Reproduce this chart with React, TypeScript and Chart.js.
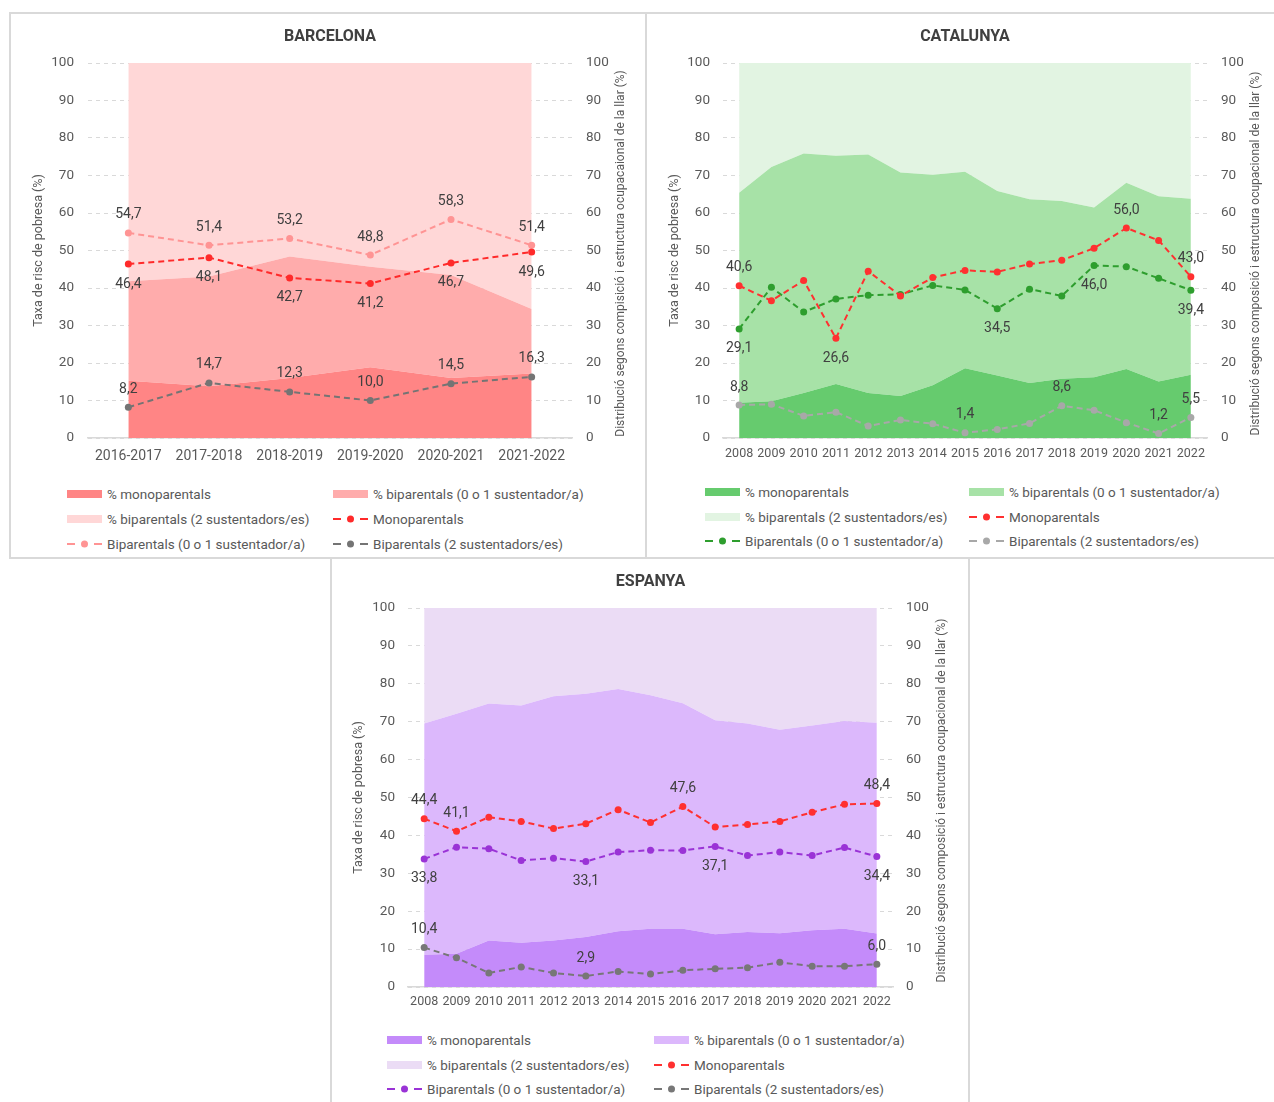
import React, { useEffect, useRef } from 'react';
import { Chart, registerables } from 'chart.js';

Chart.register(...registerables);

const FONT = 'Roboto, "Noto Sans", sans-serif';
const TICK_COLOR = '#595959';
const LABEL_COLOR = '#404040';

// ---------- Series names ----------
const areaMonoName = '% monoparentals';
const areaBip01Name = '% biparentals (0 o 1 sustentador/a)';
const areaBip2Name = '% biparentals (2 sustentadors/es)';
const lineMonoName = 'Monoparentals';
const lineBip01Name = 'Biparentals (0 o 1 sustentador/a)';
const lineBip2Name = 'Biparentals (2 sustentadors/es)';
const leftAxisTitle = 'Taxa de risc de pobresa (%)';

// ---------- BARCELONA ----------
const bcnCategories = ['2016-2017', '2017-2018', '2018-2019', '2019-2020', '2020-2021', '2021-2022'];
const bcnAreaMono = [15.3, 13.8, 16.0, 18.9, 16.0, 17.2];
const bcnAreaBip01 = [26.5, 29.3, 32.4, 26.8, 27.5, 17.2];
const bcnAreaBip2 = [58.2, 56.9, 51.6, 54.3, 56.5, 65.6];
const bcnLineMono = [46.4, 48.1, 42.7, 41.2, 46.7, 49.6];
const bcnLineBip01 = [54.7, 51.4, 53.2, 48.8, 58.3, 51.4];
const bcnLineBip2 = [8.2, 14.7, 12.3, 10.0, 14.5, 16.3];
const bcnPosMono = ['b', 'b', 'b', 'b', 'b', 'b'];
const bcnPosBip01 = ['a', 'a', 'a', 'a', 'a', 'a'];
const bcnPosBip2 = ['a', 'a', 'a', 'a', 'a', 'a'];

// ---------- CATALUNYA ----------
const years = ['2008', '2009', '2010', '2011', '2012', '2013', '2014', '2015', '2016', '2017', '2018', '2019', '2020', '2021', '2022'];
const catAreaMono = [9.4, 9.8, 12.0, 14.4, 12.0, 11.2, 14.1, 18.6, 16.7, 14.7, 15.8, 16.2, 18.4, 15.1, 16.9];
const catAreaBip01 = [56.0, 62.5, 63.9, 60.9, 63.6, 59.6, 56.1, 52.4, 49.2, 49.0, 47.4, 45.3, 49.7, 49.4, 46.9];
const catAreaBip2 = [34.6, 27.7, 24.1, 24.7, 24.4, 29.2, 29.8, 29.0, 34.1, 36.3, 36.8, 38.5, 31.9, 35.5, 36.2];
const catLineMono = [40.6, 36.6, 42.0, 26.6, 44.5, 37.9, 42.8, 44.7, 44.3, 46.4, 47.4, 50.6, 56.0, 52.7, 43.0];
const catLineBip01 = [29.1, 40.2, 33.6, 37.1, 38.1, 38.3, 40.7, 39.5, 34.5, 39.7, 37.9, 46.0, 45.7, 42.6, 39.4];
const catLineBip2 = [8.8, 9.0, 5.9, 6.9, 3.2, 4.8, 3.8, 1.4, 2.3, 3.9, 8.6, 7.4, 4.1, 1.2, 5.5];
const catPosMono = ['a', '', '', 'b', '', '', '', '', '', '', '', '', 'a', '', 'a'];
const catPosBip01 = ['b', '', '', '', '', '', '', '', 'b', '', '', 'b', '', '', 'b'];
const catPosBip2 = ['a', '', '', '', '', '', '', 'a', '', '', 'a', '', '', 'a', 'a'];

// ---------- ESPANYA ----------
const espAreaMono = [8.5, 8.8, 12.3, 11.7, 12.3, 13.2, 14.7, 15.4, 15.4, 13.9, 14.5, 14.2, 15.0, 15.4, 14.1];
const espAreaBip01 = [61.0, 63.3, 62.5, 62.6, 64.4, 64.2, 63.9, 61.6, 59.5, 56.5, 55.0, 53.7, 54.0, 54.8, 55.6];
const espAreaBip2 = [30.5, 27.9, 25.2, 25.7, 23.3, 22.6, 21.4, 23.0, 25.1, 29.6, 30.5, 32.1, 31.0, 29.8, 30.3];
const espLineMono = [44.4, 41.1, 44.8, 43.7, 41.8, 43.1, 46.8, 43.4, 47.6, 42.2, 42.9, 43.7, 46.1, 48.2, 48.4];
const espLineBip01 = [33.8, 36.9, 36.5, 33.4, 34.0, 33.1, 35.6, 36.1, 36.0, 37.1, 34.7, 35.6, 34.7, 36.8, 34.4];
const espLineBip2 = [10.4, 7.7, 3.7, 5.3, 3.7, 2.9, 4.1, 3.4, 4.4, 4.8, 5.1, 6.5, 5.5, 5.5, 6.0];
const espPosMono = ['a', 'a', '', '', '', '', '', '', 'a', '', '', '', '', '', 'a'];
const espPosBip01 = ['b', '', '', '', '', 'b', '', '', '', 'b', '', '', '', '', 'b'];
const espPosBip2 = ['a', '', '', '', '', 'a', '', '', '', '', '', '', '', '', 'a'];

const fmt = (v: number) => v.toFixed(1).replace('.', ',');

const pointLabelPlugin = {
  id: 'pointLabels',
  afterDatasetsDraw(chart: any) {
    const ctx = chart.ctx;
    chart.data.datasets.forEach((ds: any, i: number) => {
      const pos = ds.labelPos;
      if (!pos) return;
      const meta = chart.getDatasetMeta(i);
      ctx.save();
      ctx.font = `14px ${FONT}`;
      ctx.fillStyle = LABEL_COLOR;
      ctx.textAlign = 'center';
      ctx.textBaseline = 'middle';
      meta.data.forEach((pt: any, j: number) => {
        const p = pos[j];
        if (!p) return;
        const dy = p === 'a' ? -18 : 20;
        ctx.fillText(fmt(ds.data[j]), pt.x, pt.y + dy);
      });
      ctx.restore();
    });
  },
};

// Right axis title, written bottom-to-top like the left one
const rightTitlePlugin = {
  id: 'rightTitle',
  afterDraw(chart: any, _args: any, opts: any) {
    if (!opts || !opts.text) return;
    const { ctx, chartArea } = chart;
    ctx.save();
    ctx.translate(opts.x, (chartArea.top + chartArea.bottom) / 2 + (opts.dy || 0));
    ctx.rotate(-Math.PI / 2);
    ctx.font = `12px ${FONT}`;
    ctx.fillStyle = TICK_COLOR;
    ctx.textAlign = 'center';
    ctx.textBaseline = 'middle';
    ctx.fillText(opts.text, 0, 0);
    ctx.restore();
  },
};

type Area = { label: string; data: number[]; color: string };
type Line = { label: string; data: number[]; color: string; pos: string[] };

type PanelProps = {
  title: string;
  rightTitle: string;
  rightTitleX: number;
  categories: string[];
  areas: Area[];
  lines: Line[];
  canvas: { x: number; y: number; w: number; h: number };
  area: { left: number; right: number; top: number; bottom: number }; // canvas coords
  xPad: number;
  xFontSize: number;
  yPadL: number;
  yPadR: number;
  ltPad: number;
  legend: { col1: number; col2: number; rows: number[]; textGap: number; swatchW: number };
};

function ChartPanel(p: PanelProps) {
  const ref = useRef<HTMLCanvasElement>(null);
  useEffect(() => {
    if (!ref.current) return;
    const yFont = { family: FONT, size: 13.5 };
    const xFont = { family: FONT, size: p.xFontSize };
    const datasets: any[] = [
      ...p.areas.map((s, i) => ({
        type: 'line',
        label: s.label,
        data: s.data,
        yAxisID: 'y2',
        order: 10,
        fill: i === 0 ? 'origin' : '-1',
        backgroundColor: s.color,
        borderColor: 'rgba(0,0,0,0)',
        borderWidth: 0,
        pointRadius: 0,
        tension: 0,
      })),
      ...p.lines.map((s) => ({
        type: 'line',
        label: s.label,
        data: s.data,
        yAxisID: 'y',
        order: 1,
        fill: false,
        borderColor: s.color,
        backgroundColor: s.color,
        borderWidth: 2,
        borderDash: [6, 4],
        pointRadius: 3.5,
        pointBackgroundColor: s.color,
        pointBorderWidth: 0,
        tension: 0,
        labelPos: s.pos,
      })),
    ];
    const chart = new Chart(ref.current, {
      type: 'line',
      data: { labels: p.categories, datasets },
      options: {
        responsive: false,
        animation: false,
        devicePixelRatio: 1,
        layout: { padding: { top: p.area.top, left: 0, right: 0, bottom: 0 } },
        plugins: {
          legend: { display: false },
          tooltip: { enabled: false },
          title: { display: false },
          rightTitle: { text: p.rightTitle, x: p.rightTitleX, dy: 3 },
        },
        scales: {
          x: {
            type: 'category',
            offset: true,
            grid: { display: false, drawTicks: false },
            border: { display: true, color: '#D9D9D9', width: 1.5 },
            ticks: { autoSkip: false, maxRotation: 0, minRotation: 0, padding: p.xPad, color: TICK_COLOR, font: xFont },
            afterFit: (s: any) => {
              s.height = p.canvas.h - p.area.bottom;
            },
          },
          y: {
            position: 'left',
            min: 0,
            max: 100,
            ticks: { stepSize: 10, padding: p.yPadL, color: TICK_COLOR, font: yFont },
            grid: { color: '#D9D9D9', lineWidth: 1, drawTicks: false },
            border: { display: false, dash: [4, 4] },
            title: {
              display: true,
              text: leftAxisTitle,
              color: TICK_COLOR,
              font: { family: FONT, size: 12.5 },
              padding: { top: p.ltPad, bottom: 0 },
            },
            afterFit: (s: any) => {
              s.width = p.area.left;
            },
          },
          y2: {
            position: 'right',
            min: 0,
            max: 100,
            stacked: true,
            ticks: { stepSize: 10, padding: p.yPadR, color: TICK_COLOR, font: yFont },
            grid: { display: false, drawTicks: false },
            border: { display: false },
            title: { display: false },
            afterFit: (s: any) => {
              s.width = p.canvas.w - p.area.right;
            },
          },
        },
      } as any,
      plugins: [pointLabelPlugin, rightTitlePlugin],
    } as any);
    return () => chart.destroy();
  }, []);

  const legendItems: { kind: 'area' | 'line'; label: string; color: string }[] = [
    { kind: 'area', label: p.areas[0].label, color: p.areas[0].color },
    { kind: 'area', label: p.areas[1].label, color: p.areas[1].color },
    { kind: 'area', label: p.areas[2].label, color: p.areas[2].color },
    { kind: 'line', label: p.lines[0].label, color: p.lines[0].color },
    { kind: 'line', label: p.lines[1].label, color: p.lines[1].color },
    { kind: 'line', label: p.lines[2].label, color: p.lines[2].color },
  ];
  const sw = p.legend.swatchW;

  return (
    <>
      <canvas
        ref={ref}
        width={p.canvas.w}
        height={p.canvas.h}
        style={{ position: 'absolute', left: p.canvas.x, top: p.canvas.y, width: p.canvas.w, height: p.canvas.h }}
      />
      <div
        style={{
          position: 'absolute',
          left: p.canvas.x + p.area.left,
          width: p.area.right - p.area.left,
          top: p.canvas.y + 11,
          textAlign: 'center',
          fontFamily: FONT,
          fontWeight: 700,
          fontSize: 16,
          lineHeight: '20px',
          color: LABEL_COLOR,
        }}
      >
        {p.title}
      </div>
      {legendItems.map((it, i) => {
        const col = i % 2 === 0 ? p.legend.col1 : p.legend.col2;
        const rowY = p.legend.rows[Math.floor(i / 2)];
        return (
          <div
            key={i}
            style={{
              position: 'absolute',
              left: col,
              top: rowY - 9,
              height: 18,
              display: 'flex',
              alignItems: 'center',
              whiteSpace: 'nowrap',
              fontFamily: FONT,
              fontSize: 13.5,
              color: TICK_COLOR,
            }}
          >
            {it.kind === 'area' ? (
              <span style={{ display: 'inline-block', width: sw, height: 8, background: it.color }} />
            ) : (
              <svg width={sw} height={10} style={{ display: 'block' }}>
                <line x1={0} y1={5} x2={8} y2={5} stroke={it.color} strokeWidth={2} />
                <circle cx={sw / 2} cy={5} r={3.5} fill={it.color} />
                <line x1={sw - 8} y1={5} x2={sw} y2={5} stroke={it.color} strokeWidth={2} />
              </svg>
            )}
            <span style={{ marginLeft: p.legend.textGap }}>{it.label}</span>
          </div>
        );
      })}
    </>
  );
}

const panelBorder = '2px solid #D9D9D9';

export default function App() {
  return (
    <div style={{ position: 'absolute', left: 0, top: 0, width: 1274, height: 1102, overflow: 'hidden', background: '#fff' }}>
      <div style={{ position: 'absolute', left: 9, top: 12, width: 638, height: 547, border: panelBorder, boxSizing: 'border-box' }} />
      <div style={{ position: 'absolute', left: 645, top: 12, width: 640, height: 547, border: panelBorder, boxSizing: 'border-box' }} />
      <div style={{ position: 'absolute', left: 330, top: 557, width: 640, height: 560, border: panelBorder, boxSizing: 'border-box', background: '#fff' }} />

      <ChartPanel
        title="BARCELONA"
        rightTitle="Distribució segons compisició i estructura ocupacaional de la llar (%)"
        rightTitleX={609}
        categories={bcnCategories}
        areas={[
          { label: areaMonoName, data: bcnAreaMono, color: '#FF8585' },
          { label: areaBip01Name, data: bcnAreaBip01, color: '#FFACAC' },
          { label: areaBip2Name, data: bcnAreaBip2, color: '#FFD7D7' },
        ]}
        lines={[
          { label: lineMonoName, data: bcnLineMono, color: '#FF2A2A', pos: bcnPosMono },
          { label: lineBip01Name, data: bcnLineBip01, color: '#FF9494', pos: bcnPosBip01 },
          { label: lineBip2Name, data: bcnLineBip2, color: '#747474', pos: bcnPosBip2 },
        ]}
        canvas={{ x: 12, y: 15, w: 630, h: 460 }}
        area={{ left: 76, right: 560, top: 48, bottom: 423 }}
        xPad={10}
        xFontSize={14}
        yPadL={14}
        yPadR={14}
        ltPad={19}
        legend={{ col1: 67, col2: 333, rows: [494, 519, 544], textGap: 5, swatchW: 35 }}
      />

      <ChartPanel
        title="CATALUNYA"
        rightTitle="Distribució segons composició i estructura ocupacional de la llar (%)"
        rightTitleX={608}
        categories={years}
        areas={[
          { label: areaMonoName, data: catAreaMono, color: '#66CB6E' },
          { label: areaBip01Name, data: catAreaBip01, color: '#A7E2A7' },
          { label: areaBip2Name, data: catAreaBip2, color: '#E2F4E2' },
        ]}
        lines={[
          { label: lineMonoName, data: catLineMono, color: '#FF3030', pos: catPosMono },
          { label: lineBip01Name, data: catLineBip01, color: '#2E9E2E', pos: catPosBip01 },
          { label: lineBip2Name, data: catLineBip2, color: '#A8A8A8', pos: catPosBip2 },
        ]}
        canvas={{ x: 648, y: 15, w: 626, h: 460 }}
        area={{ left: 75, right: 559, top: 48, bottom: 423 }}
        xPad={8}
        xFontSize={12.5}
        yPadL={13}
        yPadR={14}
        ltPad={19}
        legend={{ col1: 705, col2: 969, rows: [492, 517, 541], textGap: 5, swatchW: 35 }}
      />

      <ChartPanel
        title="ESPANYA"
        rightTitle="Distribució segons composició i estructura ocupacional de la llar (%)"
        rightTitleX={610}
        categories={years}
        areas={[
          { label: areaMonoName, data: espAreaMono, color: '#C48BFA' },
          { label: areaBip01Name, data: espAreaBip01, color: '#DCB8FC' },
          { label: areaBip2Name, data: espAreaBip2, color: '#EBDCF5' },
        ]}
        lines={[
          { label: lineMonoName, data: espLineMono, color: '#FF3030', pos: espPosMono },
          { label: lineBip01Name, data: espLineBip01, color: '#9A33D6', pos: espPosBip01 },
          { label: lineBip2Name, data: espLineBip2, color: '#777777', pos: espPosBip2 },
        ]}
        canvas={{ x: 332, y: 560, w: 634, h: 460 }}
        area={{ left: 76, right: 561, top: 48, bottom: 427 }}
        xPad={7}
        xFontSize={12.5}
        yPadL={13}
        yPadR={13}
        ltPad={19}
        legend={{ col1: 387, col2: 654, rows: [1040, 1065, 1089], textGap: 5, swatchW: 35 }}
      />
    </div>
  );
}
